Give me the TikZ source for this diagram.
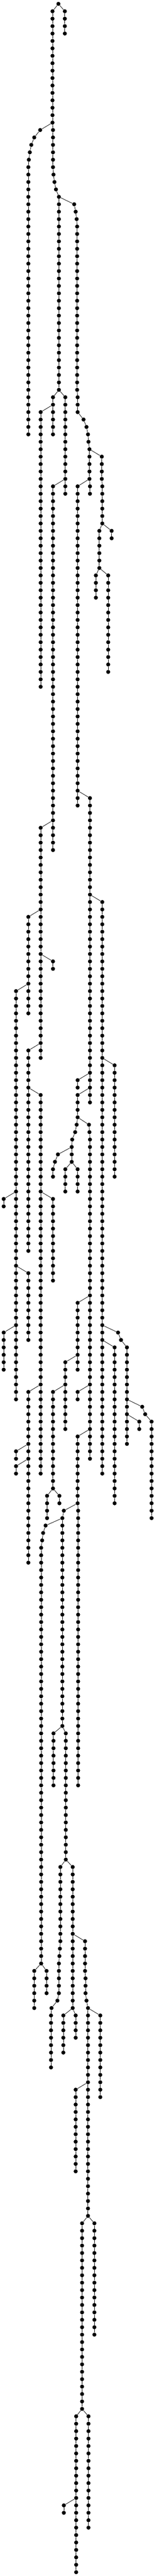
\documentclass[tikz,border=0pt]{standalone}
\usetikzlibrary{positioning}
\tikzset{
    % Tree styles
    tree node/.style={
        circle,
        fill=black,
        draw=none,
        inner sep=0pt,
        minimum size=5.5pt
    },
    tree edge/.style={
        black,
        line width=0.55pt
    }
}
\begin{document}
\begin{tikzpicture}[x=0.16827pt,y=-10.133pt]
        \useasboundingbox (0,-0.518) rectangle (1248,346.518);

        % Straight runs: column/first level/last level
        \foreach \cx/\first/\last in {
            474/0/0, 426/1/16, 526/1/4, 326/17/17, 278/18/18, 254/19/19, 242/20/20, 234/21/21,
            230/22/58, 430/17/22, 434/23/23, 442/24/24, 454/25/25, 478/26/52, 602/27/27,
            614/28/28, 622/29/29, 626/30/52, 630/53/55, 678/56/56, 702/57/57, 714/58/58,
            718/59/59, 726/60/64, 430/53/58, 530/53/66, 330/55/92, 430/65/114, 730/65/66,
            630/65/108, 826/61/64, 830/65/70, 906/71/72, 806/71/76, 778/77/80, 878/77/90,
            730/107/148, 330/111/142, 230/123/136, 130/133/188, 430/129/130, 230/141/168,
            830/121/198, 630/145/146, 330/147/198, 430/161/172, 30/161/162, 230/171/180,
            930/143/158, 630/147/150, 622/151/151, 610/152/152, 586/153/153, 582/154/156,
            470/155/155, 446/156/156, 430/157/158, 530/157/160, 630/157/160, 722/151/151,
            726/152/152, 730/153/196, 30/179/184, 958/179/179, 982/180/180, 1030/181/194,
            930/181/202, 630/175/184, 530/183/192, 430/187/200, 630/187/188, 630/193/202,
            382/201/204, 482/201/202, 230/187/210, 130/195/196, 130/197/198, 1154/189/189,
            1178/190/190, 1230/191/204, 1130/191/192, 518/203/203, 634/203/240, 506/204/232,
            370/205/205, 350/206/206, 342/207/207, 334/208/264, 278/265/270, 378/265/268,
            434/233/240, 534/233/250, 490/251/261, 590/251/270, 690/261/265, 694/266/268,
            702/269/269, 714/270/298, 486/262/262, 482/263/263, 478/264/268, 466/269/269,
            418/270/270, 414/271/278, 514/271/276, 614/271/274, 814/271/282, 614/281/292,
            666/299/324, 766/299/314, 618/325/346, 718/325/340, 518/337/338} {
            \foreach \lev in {\first,...,\last} {
                \node[tree node] (n\lev x\cx) at (\cx,\lev) {};
                \ifnum\lev>\first
                    \pgfmathtruncatemacro{\prev}{\lev-1}
                    \draw[tree edge] (n\prev x\cx) -- (n\lev x\cx);
                \fi
            }
        }

        % Branches and bends
        \foreach \from/\to in {
            n0x474/n1x426, n0x474/n1x526, n16x426/n17x326, n16x426/n17x430,
            n17x326/n18x278, n18x278/n19x254, n19x254/n20x242, n20x242/n21x234, n21x234/n22x230,
            n22x430/n23x434, n23x434/n24x442, n24x442/n25x454, n25x454/n26x478,
            n26x478/n27x602, n27x602/n28x614, n28x614/n29x622, n29x622/n30x626, n52x626/n53x630,
            n55x630/n56x678, n56x678/n57x702, n57x702/n58x714, n58x714/n59x718, n59x718/n60x726,
            n52x478/n53x430, n52x478/n53x530, n54x430/n55x330, n64x530/n65x430,
            n60x726/n61x826, n64x726/n65x630, n64x726/n65x730, n64x826/n65x830,
            n70x830/n71x806, n70x830/n71x906, n76x806/n77x778, n76x806/n77x878,
            n106x630/n107x730, n110x430/n111x330, n120x730/n121x830, n122x330/n123x230,
            n128x330/n129x430, n132x230/n133x130, n140x330/n141x230, n142x830/n143x930,
            n144x730/n145x630, n146x730/n147x630, n146x230/n147x330, n160x330/n161x430,
            n160x130/n161x30, n170x130/n171x230, n150x630/n151x622, n150x630/n151x722,
            n151x622/n152x610, n152x610/n153x586, n153x586/n154x582, n154x582/n155x470,
            n155x470/n156x446, n156x446/n157x430, n156x582/n157x530, n156x582/n157x630,
            n151x722/n152x726, n152x726/n153x730, n174x730/n175x630, n178x130/n179x30,
            n178x830/n179x958, n179x958/n180x982, n180x982/n181x1030, n180x830/n181x930,
            n182x630/n183x530, n186x530/n187x430, n186x730/n187x630, n192x730/n193x630,
            n186x330/n187x230, n194x230/n195x130, n196x230/n197x130, n188x1030/n189x1154,
            n189x1154/n190x1178, n190x1178/n191x1230, n190x1030/n191x1130, n200x430/n201x382,
            n200x430/n201x482, n202x630/n203x518, n202x630/n203x634, n203x518/n204x506,
            n204x506/n205x370, n205x370/n206x350, n206x350/n207x342, n207x342/n208x334,
            n264x334/n265x278, n264x334/n265x378, n232x506/n233x434, n232x506/n233x534,
            n250x534/n251x490, n250x534/n251x590, n260x590/n261x690, n265x690/n266x694,
            n268x694/n269x702, n269x702/n270x714, n261x490/n262x486, n262x486/n263x482,
            n263x482/n264x478, n268x478/n269x466, n269x466/n270x418, n270x418/n271x414,
            n270x590/n271x514, n270x590/n271x614, n270x714/n271x814, n280x714/n281x614,
            n298x714/n299x666, n298x714/n299x766, n324x666/n325x618, n324x666/n325x718,
            n336x618/n337x518} {
            \draw[tree edge] (\from) -- (\to);
        }
    \end{tikzpicture}
\end{document}
